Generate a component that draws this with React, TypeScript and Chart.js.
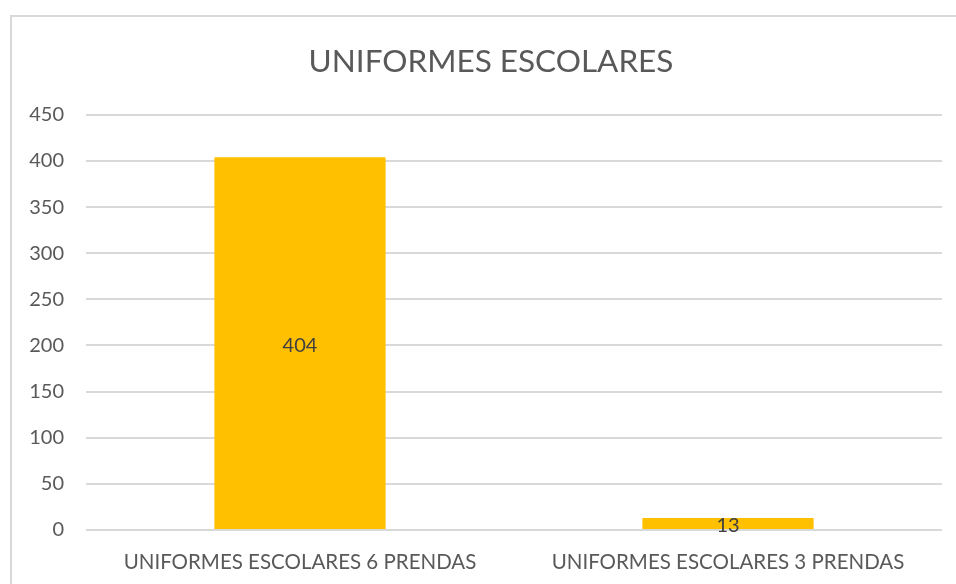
import React, { useEffect, useRef } from "react";
import { Chart, registerables } from "chart.js";

Chart.register(...registerables);

const TITLE = "UNIFORMES ESCOLARES";
const categories = ["UNIFORMES ESCOLARES 6 PRENDAS", "UNIFORMES ESCOLARES 3 PRENDAS"];
const values = [404, 13];
const Y_MIN = 0;
const Y_MAX = 450;
const Y_STEP = 50;

const FONT = "Lato, 'Open Sans', sans-serif";

const framePlugin = {
  id: "frame",
  afterLayout(chart: any) {
    const tb = chart.titleBlock;
    if (tb) {
      tb.left += 20;
      tb.right += 20;
    }
  },
  beforeDraw(chart: any) {
    const ctx = chart.ctx;
    ctx.save();
    ctx.fillStyle = "#ffffff";
    ctx.fillRect(0, 0, chart.width, chart.height);
    ctx.strokeStyle = "#d9d9d9";
    ctx.lineWidth = 2;
    ctx.strokeRect(11, 16, chart.width + 20, chart.height + 20);
    ctx.restore();
  },
};

const valueLabelPlugin = {
  id: "valueLabels",
  afterDatasetsDraw(chart: any) {
    const ctx = chart.ctx;
    ctx.save();
    ctx.fillStyle = "#404040";
    ctx.font = `20px ${FONT}`;
    ctx.textAlign = "center";
    ctx.textBaseline = "middle";
    chart.data.datasets.forEach((ds: any, di: number) => {
      const meta = chart.getDatasetMeta(di);
      meta.data.forEach((el: any, i: number) => {
        const v = ds.data[i];
        const y = (el.y + el.base) / 2 + 2;
        ctx.fillText(String(v), el.x, y);
      });
    });
    ctx.restore();
  },
};

export default function App() {
  const ref = useRef<HTMLCanvasElement | null>(null);
  useEffect(() => {
    document.body.style.margin = "0";
    if (!ref.current) return;
    const chart = new Chart(ref.current, {
      type: "bar",
      data: {
        labels: categories,
        datasets: [
          {
            label: TITLE,
            data: values,
            backgroundColor: "#FFC000",
            borderWidth: 0,
            barPercentage: 0.4,
            categoryPercentage: 1,
          },
        ],
      },
      options: {
        animation: false,
        responsive: false,
        maintainAspectRatio: false,
        layout: { padding: { left: 0, right: 14, top: 0, bottom: 0 } },
        plugins: {
          legend: { display: false },
          tooltip: { enabled: false },
          title: {
            display: true,
            text: TITLE,
            color: "#595959",
            font: { family: FONT, size: 31.5, weight: "normal", lineHeight: 1.2 },
            padding: { top: 43, bottom: 34 },
          },
        },
        scales: {
          x: {
            grid: { display: false, drawTicks: false },
            border: { display: false },
            ticks: {
              color: "#595959",
              font: { family: FONT, size: 20.5 },
              padding: 20,
              maxRotation: 0,
            },
            afterFit(scale: any) {
              scale.height = 54;
            },
          },
          y: {
            min: Y_MIN,
            max: Y_MAX,
            ticks: {
              stepSize: Y_STEP,
              color: "#595959",
              font: { family: FONT, size: 20 },
              padding: 22,
            },
            grid: { color: "#d9d9d9", lineWidth: 2, drawTicks: false },
            border: { display: false },
            afterFit(scale: any) {
              scale.width = 86;
            },
          },
        },
      },
      plugins: [framePlugin, valueLabelPlugin],
    });
    return () => chart.destroy();
  }, []);
  return (
    <div style={{ width: 956, height: 584, position: "relative" }}>
      <canvas ref={ref} width={956} height={584} style={{ display: "block" }} />
    </div>
  );
}
